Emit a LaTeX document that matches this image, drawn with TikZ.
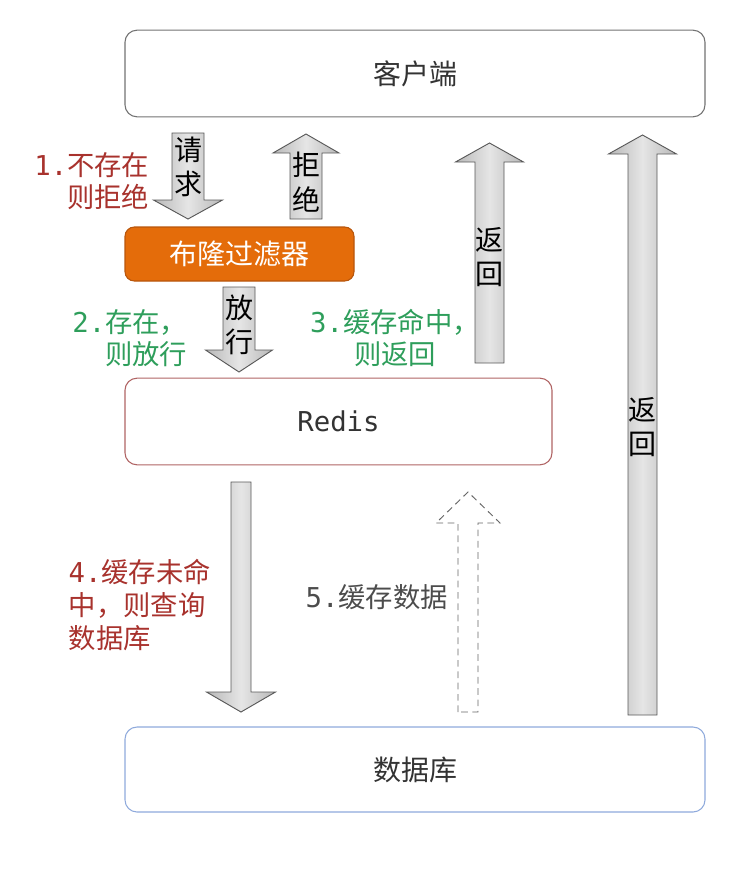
\documentclass[tikz,border=0pt]{standalone}
\usepackage{fontspec}
\setmainfont{Noto Sans CJK SC}
\setmonofont{DejaVu Sans Mono}
\usetikzlibrary{calc}
\definecolor{stepred}{HTML}{A8322D}
\definecolor{stepgreen}{HTML}{2E9E5B}
\definecolor{bloomfill}{HTML}{E46C0A}
\definecolor{bloomedge}{HTML}{B8560C}
\definecolor{redisedge}{HTML}{B06464}
\definecolor{dbedge}{HTML}{8FAADC}
% block arrow: style, x, tail y, head base y, tip y, half shaft, half head
\newcommand{\blockarr}[7]{%
  \draw[#1] ({#2-#6},#3) -- ({#2-#6},#4) -- ({#2-#7},#4) -- (#2,#5)
    -- ({#2+#7},#4) -- ({#2+#6},#4) -- ({#2+#6},#3) -- cycle;}

\begin{document}
\begin{tikzpicture}[x=0.75pt,y=-0.75pt,
    box/.style={draw, rounded corners=9pt, line width=0.8pt, fill=white,
      text=black!80, font=\fontsize{21}{24}\selectfont},
    solidarr/.style={draw=black!65, line width=0.7pt,
      left color=black!28, right color=black!28, middle color=black!10},
    dasharr/.style={draw=black!60, line width=0.7pt, dash pattern=on 5pt off 3.5pt, fill=white},
    arrtext/.style={align=center, text=black, font=\fontsize{21}{26}\selectfont},
    lbl/.style={font=\fontsize{20.5}{24.5}\selectfont}]
  \useasboundingbox (0,0) rectangle (753,875);

  % boxes
  \node (client) [box, draw=black!55, minimum width=435pt, minimum height=65pt] at (415,73.5) {客户端};
  \node (bloom) [box, draw=bloomedge, fill=bloomfill, text=white, rounded corners=7pt,
    minimum width=171.75pt, minimum height=40.5pt] at (239.5,254) {布隆过滤器};
  \node (redis) [box, draw=redisedge, minimum width=320.25pt, minimum height=65pt,
    font=\fontsize{20.5}{24}\ttfamily] at (338.5,421.5) {Redis};
  \node (db) [box, draw=dbedge, minimum width=435pt, minimum height=63.75pt] at (415,769.5) {数据库};

  % arrows
  \blockarr{solidarr}{188}{133}{200}{219}{16}{34.5}
  \blockarr{solidarr}{306}{219}{153}{134}{16}{33}
  \blockarr{solidarr}{239}{287}{350}{372}{16}{33.5}
  \blockarr{solidarr}{489.5}{363}{162}{143}{14.5}{34}
  \blockarr{solidarr}{642.5}{715}{154}{135}{14.5}{34}
  \blockarr{solidarr}{241}{482}{692}{712}{10}{34.5}
  \blockarr{dasharr}{468}{712}{523}{492}{10}{32}

  \node (ask) [arrtext] at (188,167) {请\\求};
  \node (deny) [arrtext] at (306,182) {拒\\绝};
  \node (pass) [arrtext] at (239,325) {放\\行};
  \node (hit) [arrtext] at (489.5,257) {返\\回};
  \node (back) [arrtext] at (642.5,427) {返\\回};

  % step labels
  \node (s1) [lbl, text=stepred, align=right, anchor=east] at (154,181) {{\ttfamily 1.}不存在\\则拒绝};
  \node (s2) [lbl, text=stepgreen, align=right, anchor=east] at (192,338) {{\ttfamily 2.}存在，\\则放行};
  \node (s3) [lbl, text=stepgreen, align=center] at (395,338) {{\ttfamily 3.}缓存命中，\\则返回};
  \node (s4) [lbl, text=stepred, align=left, anchor=west] at (64,605) {{\ttfamily 4.}缓存未命\\中，则查询\\数据库};
  \node (s5) [lbl, text=black!70, anchor=west] at (301,597) {{\ttfamily 5.}缓存数据};
\end{tikzpicture}
\end{document}
